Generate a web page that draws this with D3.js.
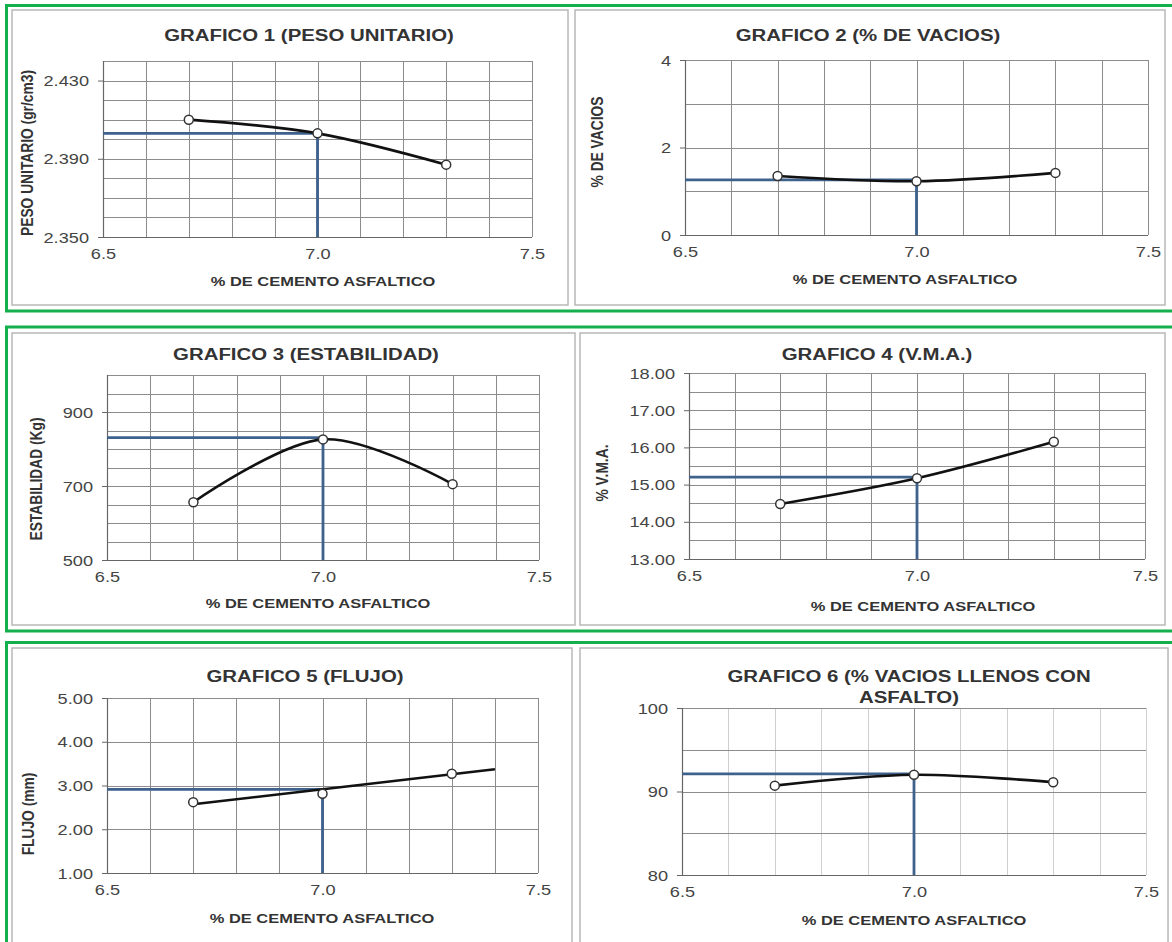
<!DOCTYPE html>
<html><head><meta charset="utf-8">
<script src="https://cdn.jsdelivr.net/npm/d3@7"></script>
<style>
body{margin:0;background:#fff}
svg{display:block}
text{font-family:"Liberation Sans",Arial,sans-serif}
</style>
</head><body><svg id="c" width="1172" height="942"></svg>
<script>
// ---------- data ----------
const xTickLabels = [6.5, 7.0, 7.5];
const pctCemento = [6.7, 7.0, 7.3];
const pesoUnitario = [2.410, 2.403, 2.387];
const vacios = [1.35, 1.23, 1.42];
const estabilidad = [656, 826, 705];
const vma = [14.48, 15.17, 16.15];
const flujo = [2.62, 2.81, 3.27];
const flujoTendX = [6.7, 7.4];
const flujoTendY = [2.57, 3.37];
const vfa = [90.7, 92.0, 91.1];
const optimoAsfalto = 7.0;
const valoresDiseno = [2.403, 1.26, 831, 15.20, 2.91, 92.1];
const titulos = [["GRAFICO 1 (PESO UNITARIO)"], ["GRAFICO 2 (% DE VACIOS)"], ["GRAFICO 3 (ESTABILIDAD)"],
                 ["GRAFICO 4 (V.M.A.)"], ["GRAFICO 5 (FLUJO)"], ["GRAFICO 6 (% VACIOS LLENOS CON", "ASFALTO)"]];
const yTitulos = ["PESO UNITARIO (gr/cm3)", "% DE VACIOS", "ESTABILIDAD (Kg)", "% V.M.A.", "FLUJO (mm)", ""];
const xTitulo = "% DE CEMENTO ASFALTICO";
const yTicks1 = [2.350, 2.390, 2.430];
const yTicks2 = [0, 2, 4];
const yTicks3 = [500, 700, 900];
const yTicks4 = [13, 14, 15, 16, 17, 18];
const yTicks5 = [1, 2, 3, 4, 5];
const yTicks6 = [80, 90, 100];
const yDomains = [[2.35, 2.44], [0, 4], [500, 1000], [13, 18], [1, 5], [80, 100]];
const yGridSteps = [0.01, 1, 50, 0.5, 1, 5];
const yFormats = [".3f", "d", "d", ".2f", ".2f", "d"];

// ---------- layout ----------
const layout = [
  {box:[12,10,568,305],  plot:[103,61,532,237],  title:[309,35],  xt:[323,281], yt:[28,153]},
  {box:[575,10,1165,305],plot:[685,60,1148,235], title:[868,35],  xt:[905,279], yt:[598,142]},
  {box:[12,333,575,625], plot:[107,375,539,560], title:[306,354], xt:[318,603], yt:[37,479]},
  {box:[580,333,1165,625],plot:[689,373,1145,559],title:[877,354], xt:[923,606], yt:[603,473]},
  {box:[12,648,572,950], plot:[107,698,538,873], title:[305,676], xt:[322,918], yt:[29,814]},
  {box:[580,648,1168,950],plot:[682,708,1146,875],title:[909,676], xt:[914,920], yt:[0,0]}
];
const series = [pesoUnitario, vacios, estabilidad, vma, flujo, vfa];
const yTicksAll = [yTicks1, yTicks2, yTicks3, yTicks4, yTicks5, yTicks6];

const GREEN = "#14b04e", BLUE = "#3f628d", GRID = "#8c8c8c";
const svg = d3.select("#c");
svg.append("rect").attr("width",1172).attr("height",942).attr("fill","#fff");

function sText(g, x, y, str, o) {
  return g.append("text")
    .attr("transform", `translate(${x},${y}) scale(${o.sx||1},1)`)
    .attr("text-anchor", o.anchor || "middle")
    .attr("dominant-baseline", "central")
    .attr("font-size", o.size)
    .attr("font-weight", o.bold ? "bold" : "normal")
    .attr("fill", o.fill || "#333")
    .text(str);
}

// green frames
[[5.5,311],[327,631],[642.5,960]].forEach(([t,b]) => {
  svg.append("rect").attr("x",6.5).attr("y",t).attr("width",1180).attr("height",b-t)
    .attr("fill","none").attr("stroke",GREEN).attr("stroke-width",3);
});

layout.forEach((L, i) => {
  const g = svg.append("g");
  const [bx0,by0,bx1,by1] = L.box;
  g.append("rect").attr("x",bx0).attr("y",by0).attr("width",bx1-bx0).attr("height",by1-by0)
    .attr("fill","#fff").attr("stroke","#b8b8b8").attr("stroke-width",1.5);

  const [px0,py0,px1,py1] = L.plot;
  const x = d3.scaleLinear().domain([6.5, 7.5]).range([px0, px1]);
  const y = d3.scaleLinear().domain(yDomains[i]).range([py1, py0]);

  // grid
  const [lo, hi] = yDomains[i], st = yGridSteps[i];
  const hy = d3.range(0, Math.round((hi-lo)/st)+1).map(k => lo + k*st);
  const vx = d3.range(0, 11).map(k => 6.5 + k*0.1);
  g.selectAll(null).data(vx).join("line")
    .attr("x1", d => Math.round(x(d))+0.5).attr("x2", d => Math.round(x(d))+0.5)
    .attr("y1", py0).attr("y2", py1)
    .attr("stroke", i === 5 ? "#cfcfcf" : GRID).attr("stroke-width", 1);
  g.selectAll(null).data(hy).join("line")
    .attr("y1", d => Math.round(y(d))+0.5).attr("y2", d => Math.round(y(d))+0.5)
    .attr("x1", px0).attr("x2", px1)
    .attr("stroke", GRID).attr("stroke-width", 1);
  if (i === 5) {
    g.append("line").attr("x1",Math.round(x(7))+0.5).attr("x2",Math.round(x(7))+0.5)
      .attr("y1",py0).attr("y2",py1).attr("stroke",GRID);
  }
  // axis lines
  g.append("line").attr("x1",px0+0.5).attr("x2",px0+0.5).attr("y1",py0).attr("y2",py1).attr("stroke","#666").attr("stroke-width",1.2);
  g.append("line").attr("x1",px0).attr("x2",px1).attr("y1",py1+0.5).attr("y2",py1+0.5).attr("stroke","#666").attr("stroke-width",1.2);

  // y axis (labels)
  const ya = g.append("g").attr("transform", `translate(${px0},0)`)
    .call(d3.axisLeft(y).tickValues(yTicksAll[i]).tickFormat(d3.format(yFormats[i])).tickSize(5).tickPadding(0));
  ya.select(".domain").remove();
  ya.selectAll(".tick line").attr("stroke","#666");
  ya.selectAll(".tick text")
    .attr("x", null).attr("dy", null)
    .attr("transform", "translate(-14,0) scale(1.3,1)")
    .attr("dominant-baseline","central")
    .attr("font-size", 14).attr("font-family", '"Liberation Sans",Arial,sans-serif').attr("fill", "#444");

  // x axis labels
  const xa = g.append("g").attr("transform", `translate(0,${py1})`)
    .call(d3.axisBottom(x).tickValues(xTickLabels).tickFormat(d3.format(".1f")).tickSize(0).tickPadding(0));
  xa.select(".domain").remove();
  xa.selectAll(".tick text")
    .attr("y", null).attr("dy", null)
    .attr("transform", "translate(0,17) scale(1.3,1)")
    .attr("dominant-baseline","central")
    .attr("font-size", 14).attr("font-family", '"Liberation Sans",Arial,sans-serif').attr("fill", "#444");

  // design (optimum) lines
  const yd = y(valoresDiseno[i]);
  g.append("path")
    .attr("d", d3.line()([[px0, yd], [x(optimoAsfalto), yd], [x(optimoAsfalto), py1]]))
    .attr("fill","none").attr("stroke", BLUE).attr("stroke-width", 2.8);

  // curve
  const pts = pctCemento.map((c, k) => [c, series[i][k]]);
  if (i === 4) {
    const tr = flujoTendX.map((c, k) => [x(c), y(flujoTendY[k])]);
    g.append("path").attr("d", d3.line()(tr))
      .attr("fill","none").attr("stroke","#111").attr("stroke-width",2.6);
  } else {
    const line = d3.line().x(d => x(d[0])).y(d => y(d[1])).curve(d3.curveCardinal.tension(0));
    g.append("path").attr("d", line(pts))
      .attr("fill","none").attr("stroke","#111").attr("stroke-width",2.6);
  }
  g.selectAll(null).data(pts).join("circle")
    .attr("cx", d => x(d[0])).attr("cy", d => y(d[1])).attr("r", 4.5)
    .attr("fill","#fff").attr("stroke","#333").attr("stroke-width",1.5);

  // titles
  titulos[i].forEach((t, k) => {
    sText(g, L.title[0], L.title[1] + k*21, t, {size:17, bold:true, sx:1.2, fill:"#333"});
  });
  sText(g, L.xt[0], L.xt[1], xTitulo, {size:13.5, bold:true, sx:1.22, fill:"#333"});
  if (yTitulos[i]) {
    g.append("text")
      .attr("transform", `translate(${L.yt[0]},${L.yt[1]}) rotate(-90) scale(1,1.15)`)
      .attr("text-anchor","middle").attr("dominant-baseline","central")
      .attr("font-size", 13.8).attr("font-weight","bold").attr("fill","#333")
      .text(yTitulos[i]);
  }
});
</script>
</body></html>
